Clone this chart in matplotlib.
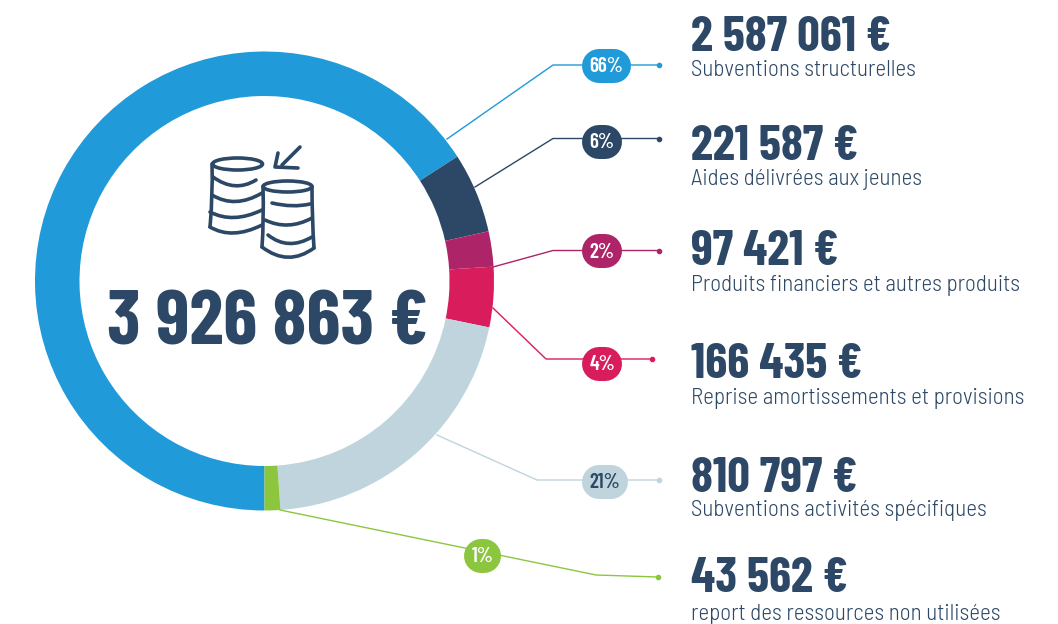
import matplotlib
matplotlib.use("Agg")
import matplotlib.pyplot as plt
from matplotlib.patches import Ellipse, PathPatch
from matplotlib.path import Path

# dati
montants = [2587061, 221587, 97421, 166435, 810797, 43562]
totale = "3 926 863 €"
montants_txt = ["2 587 061 €", "221 587 €", "97 421 €", "166 435 €", "810 797 €", "43 562 €"]
libelles = ["Subventions structurelles", "Aides délivrées aux jeunes",
            "Produits financiers et autres produits", "Reprise amortissements et provisions",
            "Subventions activités spécifiques", "report des ressources non utilisées"]
pourcents = ["66%", "6%", "2%", "4%", "21%", "1%"]
couleurs = ["#209ad9", "#2c4866", "#ad2469", "#d91c5c", "#bfd4dc", "#8cc63f"]
couleurs_txt = ["white", "white", "white", "white", "#2c4866", "white"]
bleu = "#2c4866"

H = 624
plt.rcParams['font.family'] = ['Barlow Condensed', 'Roboto', 'DejaVu Sans']

fig = plt.figure(figsize=(10.58, 6.24), dpi=100)
ax = fig.add_axes([0, 0, 1, 1])

# anneau
ax.pie(montants, colors=couleurs, startangle=270, counterclock=False,
       center=(264.5, H - 281), radius=229.5,
       wedgeprops=dict(width=44.5, linewidth=0))
ax.set_xlim(0, 1058)
ax.set_ylim(0, H)
ax.set_aspect('equal')
ax.axis('off')

# lignes de rappel (pixels de l'image)
lignes = [
    [(447, 139), (553, 65), (659, 65)],
    [(475, 187), (553, 138.5), (659, 138.5)],
    [(493, 267), (553, 250.5), (659, 250.5)],
    [(493, 308), (546, 359), (652, 359)],
    [(437, 435), (537, 480), (659, 480)],
    [(280, 510), (596, 575), (658, 577)],
]
pastilles = [(606.5, 66, 24.5), (602, 142, 20), (602, 251, 20), (602, 364, 20), (605, 482, 23), (482.5, 556, 18.5)]

for i in range(6):
    xs = [p[0] for p in lignes[i]]
    ys = [H - p[1] for p in lignes[i]]
    ax.plot(xs, ys, color=couleurs[i], lw=1, zorder=2)
    ax.plot(xs[-1], ys[-1], 'o', color=couleurs[i], ms=3, zorder=2)
    cx, cy, dx = pastilles[i]
    # pastille = trait epais a bouts ronds
    ax.plot([cx - dx + 17, cx + dx - 17], [H - cy, H - cy], color=couleurs[i], lw=24.5,
            solid_capstyle='round', zorder=3)
    ax.text(cx, H - cy - 1, pourcents[i], color=couleurs_txt[i], fontsize=15, fontweight=600,
            ha='center', va='center', zorder=4)

# textes a droite
y_montant = [38, 147, 252, 365, 479, 579]
y_libelle = [70.5, 179.5, 285.5, 398.5, 510.5, 614.5]
for i in range(6):
    ax.text(691, H - y_montant[i], montants_txt[i], color=bleu, fontsize=36, fontweight='bold',
            ha='left', va='center')
    ax.text(691, H - y_libelle[i], libelles[i], color=bleu, fontsize=16.6, ha='left', va='center',
            family=['Barlow Semi Condensed', 'Roboto', 'DejaVu Sans'], fontweight=300)

# total au centre
ax.text(267.5, H - 325, totale, color=bleu, fontsize=55.5, fontweight='bold', ha='center', va='center')

# icone pieces
def trait(pts):
    codes = [Path.MOVETO] + [Path.CURVE3] * (len(pts) - 1)
    ax.add_patch(PathPatch(Path([(x, H - y) for x, y in pts], codes), fc='none', ec=bleu,
                           lw=2.6, capstyle='round', zorder=5))

ax.add_patch(Ellipse((237.5, H - 164), 50, 12, fc='none', ec=bleu, lw=2.6))
ax.add_patch(Ellipse((287.5, H - 186.5), 49, 11, fc='none', ec=bleu, lw=2.6))
trait([(212, 164), (213, 195), (210, 227)])
trait([(210, 227), (232, 240), (262, 225)])
trait([(213, 177), (235, 193), (256, 180)])
trait([(212, 195), (235, 209), (262, 193)])
trait([(210, 212), (233, 224), (262, 210)])
trait([(263, 187), (264, 220), (262, 247)])
trait([(262, 247), (288, 267), (314, 248)])
trait([(312, 187), (312, 220), (314, 248)])
trait([(272, 203), (293, 208), (310, 204)])
trait([(265, 220), (288, 231), (312, 218)])
trait([(268, 235), (288, 251), (312, 237)])
ax.plot([300, 282], [H - 147, H - 165], color=bleu, lw=2.6, solid_capstyle='round')
ax.plot([278, 275, 298], [H - 153, H - 167, H - 168], color=bleu, lw=2.6, solid_capstyle='round')

fig.savefig("out.png", dpi=100)
